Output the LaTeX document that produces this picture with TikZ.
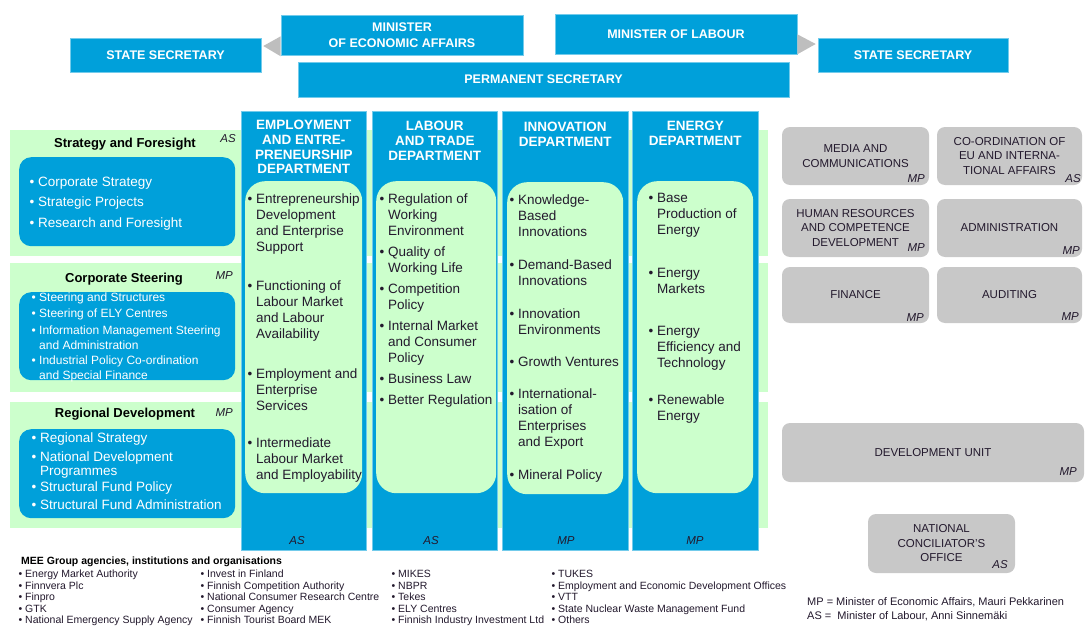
\documentclass[tikz,border=0pt]{standalone}
\usepackage{fontspec}
\setmainfont{Liberation Sans}
\usetikzlibrary{calc}
\definecolor{mblue}{RGB}{0,160,218}
\definecolor{mgreen}{RGB}{204,255,204}
\definecolor{mgray}{RGB}{200,200,200}
\definecolor{mtri}{RGB}{190,190,190}
\definecolor{mtext}{RGB}{35,25,45}
\tikzstyle{topbox} = [rectangle, fill=mblue, draw=mblue!55!white, line width=0.6pt, text=white, font=\bfseries\fontsize{12.5}{16}\selectfont, align=center, inner sep=0pt]
\tikzstyle{band} = [rectangle, fill=mgreen, anchor=north west, inner sep=0pt, minimum width=758pt]
\tikzstyle{sidebox} = [rectangle, rounded corners=12pt, fill=mblue, anchor=north west, inner sep=0pt, minimum width=216pt]
\tikzstyle{sidetitle} = [font=\bfseries\fontsize{13}{16}\selectfont, text=black, inner sep=0pt]
\tikzstyle{sideitem} = [anchor=north west, align=left, text=white, inner sep=0pt]
\tikzstyle{deptcol} = [rectangle, fill=mblue, draw=mblue!55!white, line width=0.6pt, anchor=north west, inner sep=0pt, minimum height=439pt]
\tikzstyle{deptpane} = [rectangle, rounded corners=20pt, fill=mgreen, anchor=north west, inner sep=0pt, minimum height=312pt]
\tikzstyle{depthead} = [anchor=north, align=center, text=white, font=\bfseries\fontsize{13.5}{14.7}\selectfont, inner sep=0pt]
\tikzstyle{deptitem} = [anchor=north west, align=left, text=mtext, font=\fontsize{13.5}{16}\selectfont, inner sep=0pt]
\tikzstyle{graybox} = [rectangle, rounded corners=8pt, fill=mgray, text=mtext, align=center, font=\fontsize{11.5}{14.5}\selectfont, inner sep=0pt]
\tikzstyle{who} = [anchor=base east, text=mtext, font=\itshape\fontsize{11.5}{14}\selectfont, inner sep=0pt]
\tikzstyle{agency} = [anchor=north west, align=left, text=mtext, font=\fontsize{10.5}{11.5}\selectfont, inner sep=0pt]
\newcommand{\bul}{\llap{\textbullet\ }}

\begin{document}
\begin{tikzpicture}[x=1pt, y=-1pt]
\useasboundingbox[fill=white] (0,0) rectangle (1089,626);
\clip (0,0) rectangle (1089,626);

\node[topbox, minimum width=191pt, minimum height=34pt] (ssl) at (165.5,55) {STATE SECRETARY};
\node[topbox, minimum width=242pt, minimum height=40pt] (mea) at (402,35) {MINISTER\\OF ECONOMIC AFFAIRS};
\node[topbox, minimum width=242pt, minimum height=40pt] (mol) at (676,34) {MINISTER OF LABOUR};
\node[topbox, minimum width=190pt, minimum height=34pt] (ssr) at (913,55) {STATE SECRETARY};
\node[topbox, minimum width=491pt, minimum height=35pt] (perm) at (543.5,79.5) {PERMANENT SECRETARY};
\fill[mtri] ($(mea.south west)+(0,1)$) -- ($(ssl.east)+(2,-9)$) -- ($(mea.south west)+(0,-19)$) -- cycle;
\fill[mtri] (mol.south east) -- ($(ssr.west)+(-2,-11)$) -- ($(mol.south east)+(0,-20)$) -- cycle;

\node[band, minimum height=126pt] (band1) at (10,130) {};
\node[band, minimum height=129pt] (band2) at (10,263) {};
\node[band, minimum height=126pt] (band3) at (10,402) {};
\node[sidetitle] (t1) at (125,144) {Strategy and Foresight};
\node[sidetitle] (t2) at (124,279) {Corporate Steering};
\node[sidetitle] (t3) at (125,414) {Regional Development};
\node[who] (w1) at (236,142) {AS};
\node[who] (w2) at (233,279) {MP};
\node[who] (w3) at (233,416) {MP};
\node[sidebox, minimum height=89pt] (sb1) at (19,157) {};
\node[sidebox, minimum height=88pt] (sb2) at (19,292) {};
\node[sidebox, minimum height=89pt] (sb3) at (19,429) {};
\foreach \y/\t [count=\i] in {183/Corporate Strategy, 203/Strategic Projects, 224/Research and Foresight}
  \node[sideitem, font=\fontsize{13.5}{16}\selectfont] (sf\i) at (38,\y-6) {\bul\t};
\foreach \y/\t [count=\i] in {298/Steering and Structures, 314/Steering of ELY Centres, 331/{Information Management Steering\\and Administration}, 361/{Industrial Policy Co-ordination\\and Special Finance}}
  \node[sideitem, font=\fontsize{12}{15.5}\selectfont] (cs\i) at (39,\y-5.5) {\bul\t};
\foreach \y/\t [count=\i] in {439/Regional Strategy, 458/{National Development\\Programmes}, 488/Structural Fund Policy, 506/Structural Fund Administration}
  \node[sideitem, font=\fontsize{13.5}{14}\selectfont] (rd\i) at (40,\y-6) {\bul\t};

\node[deptcol, minimum width=125pt] (dep1) at (241,111) {};
\node[deptcol, minimum width=125pt] (dep2) at (372,111) {};
\node[deptcol, minimum width=126pt] (dep3) at (502,111) {};
\node[deptcol, minimum width=126pt] (dep4) at (632,111) {};
\node[depthead] (h1) at ($(dep1.north)+(0,9)$) {EMPLOYMENT\\AND ENTRE-\\PRENEURSHIP\\DEPARTMENT};
\node[depthead] (h2) at ($(dep2.north)+(0,10)$) {LABOUR\\AND TRADE\\DEPARTMENT};
\node[depthead] (h3) at ($(dep3.north)+(0,11)$) {INNOVATION\\DEPARTMENT};
\node[depthead] (h4) at ($(dep4.north)+(0,10)$) {ENERGY\\DEPARTMENT};
\node[deptpane, minimum width=117pt] (pane1) at (245,181) {};
\node[deptpane, minimum width=120pt] (pane2) at (376,181) {};
\node[deptpane, minimum width=116pt] (pane3) at (507,182) {};
\node[deptpane, minimum width=116pt] (pane4) at (637,181) {};
\node[who, anchor=center] (wd1) at (297,541) {AS};
\node[who, anchor=center] (wd2) at (431,541) {AS};
\node[who, anchor=center] (wd3) at (566,541) {MP};
\node[who, anchor=center] (wd4) at (695,541) {MP};

\foreach \y/\t [count=\i] in {200/{Entrepreneurship\\Development\\and Enterprise\\Support}, 287/{Functioning of\\Labour Market\\and Labour\\Availability}, 375/{Employment and\\Enterprise\\Services}, 444/{Intermediate\\Labour Market\\and Employability}}
  \node[deptitem] (emp\i) at (256,\y-6) {\bul\t};
\foreach \y/\t [count=\i] in {200/{Regulation of\\Working\\Environment}, 253/{Quality of\\Working Life}, 290/{Competition\\Policy}, 327/{Internal Market\\and Consumer\\Policy}, 380/Business Law, 401/Better Regulation}
  \node[deptitem] (lab\i) at (388,\y-6) {\bul\t};
\foreach \y/\t [count=\i] in {201/{Knowledge-\\Based\\Innovations}, 266/{Demand-Based\\Innovations}, 315/{Innovation\\Environments}, 363/Growth Ventures, 395/{International-\\isation of\\Enterprises\\and Export}, 476/Mineral Policy}
  \node[deptitem] (inv\i) at (518,\y-6) {\bul\t};
\foreach \y/\t [count=\i] in {199/{Base\\Production of\\Energy}, 274/{Energy\\Markets}, 332/{Energy\\Efficiency and\\Technology}, 401/{Renewable\\Energy}}
  \node[deptitem] (ene\i) at (657,\y-6) {\bul\t};

\node[graybox, minimum width=147pt, minimum height=58pt] (media) at (855.5,156) {MEDIA AND\\COMMUNICATIONS};
\node[graybox, minimum width=145pt, minimum height=58pt] (coord) at (1009.5,156) {CO-ORDINATION OF\\EU AND INTERNA-\\TIONAL AFFAIRS};
\node[graybox, minimum width=147pt, minimum height=58pt] (hr) at (855.5,228) {HUMAN RESOURCES\\AND COMPETENCE\\DEVELOPMENT};
\node[graybox, minimum width=145pt, minimum height=58pt] (admin) at (1009.5,228) {ADMINISTRATION};
\node[graybox, minimum width=147pt, minimum height=56pt] (finance) at (855.5,295) {FINANCE};
\node[graybox, minimum width=145pt, minimum height=56pt] (audit) at (1009.5,295) {AUDITING};
\node[graybox, minimum width=302pt, minimum height=59pt] (devunit) at (933,452.5) {DEVELOPMENT UNIT};
\node[graybox, minimum width=147pt, minimum height=59pt] (concil) at (941.5,543.5) {NATIONAL\\CONCILIATOR'S\\OFFICE};
\node[who] (w-media) at (925,182) {MP};
\node[who] (w-coord) at (1081,182) {AS};
\node[who] (w-hr) at (925,251) {MP};
\node[who] (w-admin) at (1080,254) {MP};
\node[who] (w-finance) at (924,321) {MP};
\node[who] (w-audit) at (1079,320) {MP};
\node[who] (w-devunit) at (1077,475) {MP};
\node[who] (w-concil) at (1008,568) {AS};

\node[anchor=west, text=black, font=\bfseries\fontsize{10.5}{12}\selectfont, inner sep=0pt] (mee) at (21,562) {MEE Group agencies, institutions and organisations};
\node[agency] (ag1) at (25,570) {\bul Energy Market Authority\\\bul Finnvera Plc\\\bul Finpro\\\bul GTK\\\bul National Emergency Supply Agency};
\node[agency] (ag2) at (207,570) {\bul Invest in Finland\\\bul Finnish Competition Authority\\\bul National Consumer Research Centre\\\bul Consumer Agency\\\bul Finnish Tourist Board MEK};
\node[agency] (ag3) at (398,570) {\bul MIKES\\\bul NBPR\\\bul Tekes\\\bul ELY Centres\\\bul Finnish Industry Investment Ltd};
\node[agency] (ag4) at (558,570) {\bul TUKES\\\bul Employment and Economic Development Offices\\\bul VTT\\\bul State Nuclear Waste Management Fund\\\bul Others};
\node[anchor=north west, align=left, text=mtext, font=\fontsize{11}{13.5}\selectfont, inner sep=0pt] (legend) at (807,597.5) {MP = Minister of Economic Affairs, Mauri Pekkarinen\\AS = \ Minister of Labour, Anni Sinnemäki};
\end{tikzpicture}
\end{document}
